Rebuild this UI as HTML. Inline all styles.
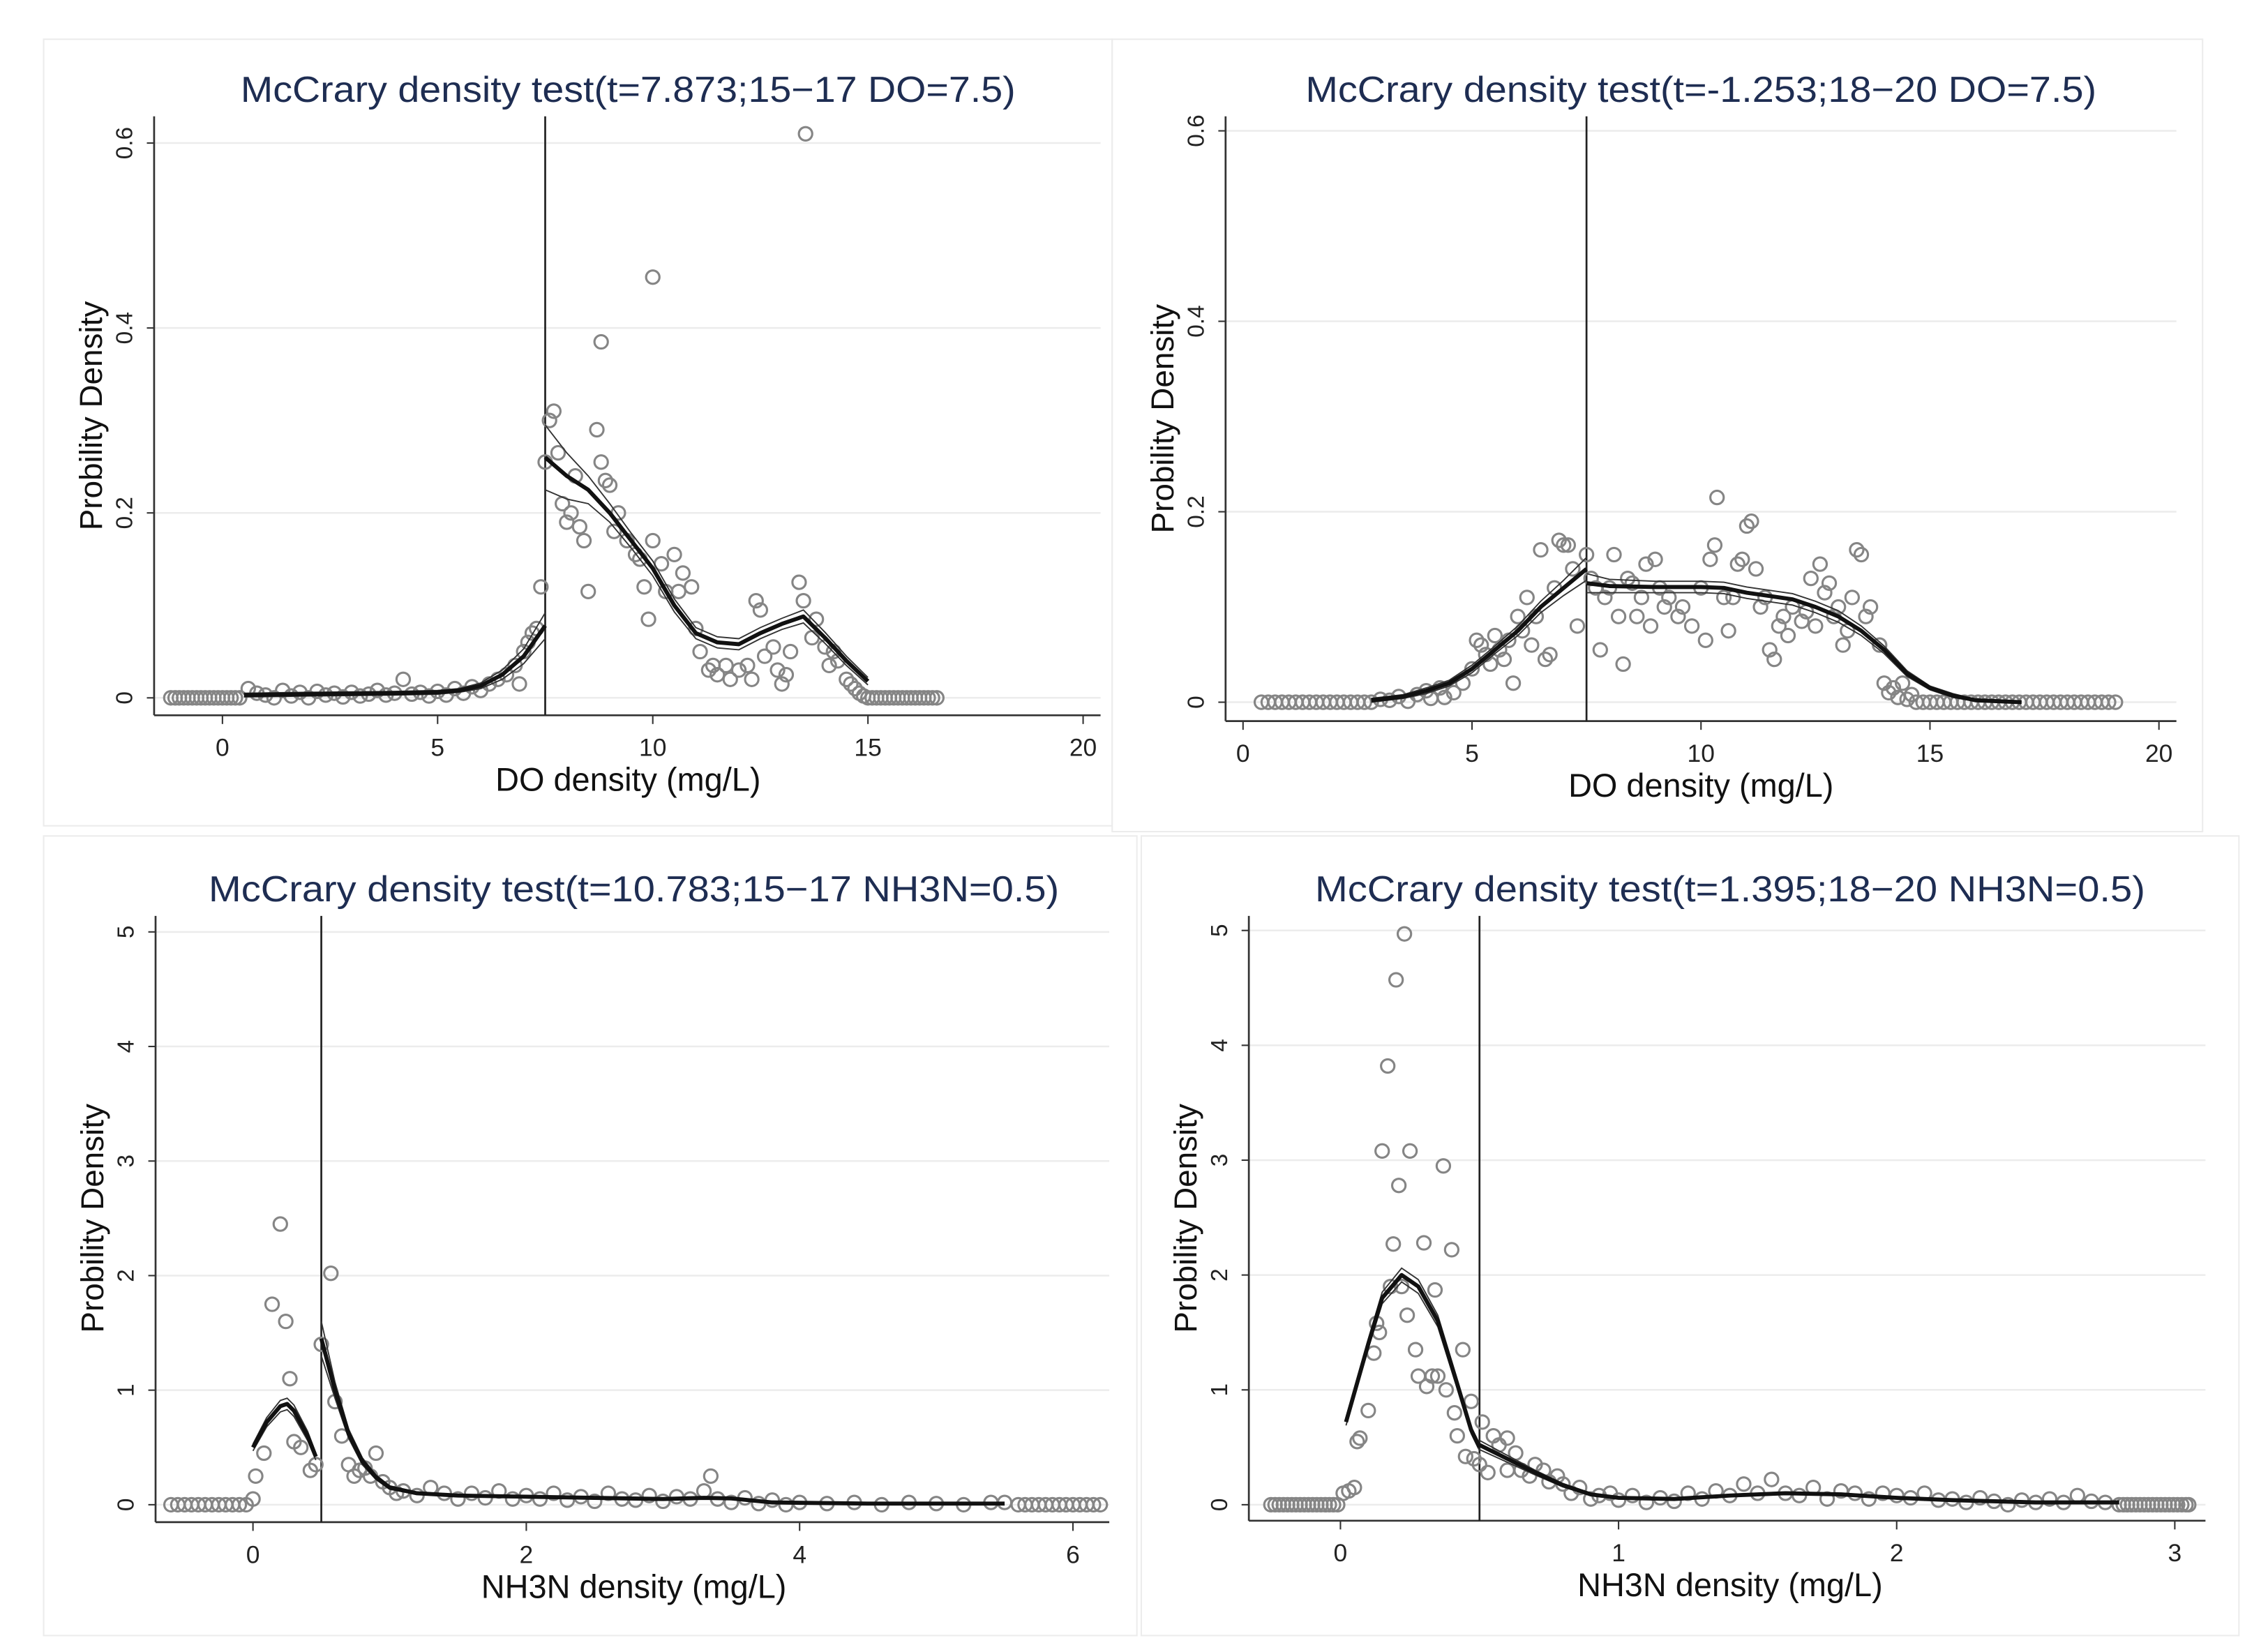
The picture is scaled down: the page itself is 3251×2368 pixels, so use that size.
<!DOCTYPE html>
<html><head><meta charset="utf-8"><style>
html,body{margin:0;padding:0;background:#fff;}
svg{display:block;}
text{font-family:"Liberation Sans",sans-serif;}
</style></head><body>
<svg id="chart" width="3251" height="2368" viewBox="0 0 1560 1136.3" xmlns="http://www.w3.org/2000/svg"></svg>
<script>
// ---------- Panel 1 data ----------
const p1ZeroX=[-1.2,-1.1,-1.0,-0.9,-0.8,-0.7,-0.6,-0.5,-0.4,-0.3,-0.2,-0.1,0,0.1,0.2,0.3,0.4,15.0,15.1,15.2,15.3,15.4,15.5,15.6,15.7,15.8,15.9,16.0,16.1,16.2,16.3,16.4,16.5,16.6];
const p1X=[0.6,0.8,1.0,1.2,1.4,1.6,1.8,2.0,2.2,2.4,2.6,2.8,3.0,3.2,3.4,3.6,3.8,4.0,4.2,4.4,4.6,4.8,5.0,5.2,5.4,5.6,5.8,6.0,6.2,6.4,6.6,6.8,6.9,7.0,7.1,7.2,7.3,7.4,
7.5,7.6,7.7,7.8,7.9,8.0,8.1,8.2,8.3,8.4,8.5,8.7,8.8,8.8,8.9,9.0,9.1,9.2,9.4,9.6,9.7,9.8,9.9,10.0,10.0,10.2,10.3,10.5,10.6,10.7,10.9,11.0,11.1,11.3,11.4,11.5,11.7,11.8,12.0,12.2,12.3,12.4,12.5,12.6,12.8,12.9,13.0,13.1,13.2,13.4,13.5,13.55,13.7,13.8,14.0,14.1,14.2,14.3,14.5,14.6,14.7,14.8,14.9];
const p1Y=[0.01,0.005,0.003,0.0,0.008,0.002,0.006,0.0,0.007,0.003,0.005,0.001,0.006,0.002,0.004,0.008,0.003,0.005,0.02,0.004,0.006,0.002,0.007,0.003,0.01,0.005,0.012,0.008,0.015,0.02,0.025,0.035,0.015,0.05,0.06,0.07,0.075,0.12,
0.255,0.3,0.31,0.265,0.21,0.19,0.2,0.24,0.185,0.17,0.115,0.29,0.385,0.255,0.235,0.23,0.18,0.2,0.17,0.155,0.15,0.12,0.085,0.455,0.17,0.145,0.115,0.155,0.115,0.135,0.12,0.075,0.05,0.03,0.035,0.025,0.035,0.02,0.03,0.035,0.02,0.105,0.095,0.045,0.055,0.03,0.015,0.025,0.05,0.125,0.105,0.61,0.065,0.085,0.055,0.035,0.05,0.04,0.02,0.015,0.01,0.005,0.002];
const p1FitLX=[0.5,2,4,5,5.5,6,6.5,7,7.5];
const p1FitLY=[0.003,0.004,0.005,0.006,0.008,0.013,0.025,0.045,0.078];
const p1FitLCI=[0.002,0.002,0.002,0.002,0.002,0.003,0.005,0.008,0.014];
const p1FitRX=[7.5,8,8.5,9,9.5,10,10.5,11,11.5,12,12.5,13,13.5,14,14.5,15];
const p1FitRY=[0.26,0.24,0.225,0.2,0.17,0.14,0.1,0.07,0.06,0.058,0.07,0.08,0.088,0.065,0.04,0.018];
const p1FitRCI=[0.035,0.025,0.015,0.01,0.008,0.008,0.007,0.006,0.006,0.006,0.006,0.006,0.007,0.006,0.005,0.004];

// ---------- Panel 2 data ----------
const p2ZeroX=[0.4,0.55,0.7,0.85,1.0,1.15,1.3,1.45,1.6,1.75,1.9,2.05,2.2,2.35,2.5,2.65,2.8,14.7,14.85,15.0,15.15,15.3,15.45,15.6,15.75,15.9,16.05,16.2,16.35,16.5,16.65,16.8,16.95,17.1,17.25,17.4,17.55,17.7,17.85,18.0,18.15,18.3,18.45,18.6,18.75,18.9,19.05];
const p2X=[3.0,3.2,3.4,3.6,3.8,4.0,4.1,4.3,4.4,4.6,4.8,5.0,5.1,5.2,5.3,5.4,5.5,5.6,5.7,5.8,5.9,6.0,6.1,6.2,6.3,6.4,6.5,6.6,6.7,6.8,6.9,7.0,7.1,7.2,7.3,
7.5,7.6,7.7,7.8,7.9,8.0,8.1,8.2,8.3,8.4,8.5,8.6,8.7,8.8,8.9,9.0,9.1,9.2,9.3,9.5,9.6,9.8,10.0,10.1,10.2,10.3,10.35,10.5,10.6,10.7,10.8,10.9,11.0,11.1,11.2,11.3,11.4,11.5,11.6,11.7,11.8,11.9,12.0,12.2,12.3,12.4,12.5,12.6,12.7,12.8,12.9,13.0,13.1,13.2,13.3,13.4,13.5,13.6,13.7,13.9,14.0,14.1,14.2,14.3,14.4,14.5,14.6];
const p2Y=[0.003,0.002,0.006,0.001,0.008,0.012,0.004,0.015,0.005,0.01,0.02,0.035,0.065,0.06,0.05,0.04,0.07,0.055,0.045,0.065,0.02,0.09,0.075,0.11,0.06,0.09,0.16,0.045,0.05,0.12,0.17,0.165,0.165,0.14,0.08,
0.155,0.13,0.12,0.055,0.11,0.12,0.155,0.09,0.04,0.13,0.125,0.09,0.11,0.145,0.08,0.15,0.12,0.1,0.11,0.09,0.1,0.08,0.12,0.065,0.15,0.165,0.215,0.11,0.075,0.11,0.145,0.15,0.185,0.19,0.14,0.1,0.11,0.055,0.045,0.08,0.09,0.07,0.1,0.085,0.095,0.13,0.08,0.145,0.115,0.125,0.09,0.1,0.06,0.075,0.11,0.16,0.155,0.09,0.1,0.06,0.02,0.01,0.015,0.005,0.02,0.003,0.008];
const p2FitLX=[2.8,3.5,4,4.5,5,5.5,6,6.5,7,7.5];
const p2FitLY=[0.002,0.006,0.012,0.02,0.035,0.055,0.075,0.1,0.12,0.14];
const p2FitLCI=[0.002,0.002,0.003,0.003,0.004,0.004,0.005,0.006,0.008,0.012];
const p2FitRX=[7.5,8,9,10,10.5,11,12,12.5,13,13.5,14,14.5,15,15.5,16,17];
const p2FitRY=[0.125,0.122,0.121,0.121,0.12,0.115,0.108,0.1,0.09,0.075,0.055,0.03,0.015,0.007,0.002,0.0];
const p2FitRCI=[0.01,0.007,0.006,0.006,0.006,0.006,0.006,0.006,0.006,0.005,0.004,0.003,0.002,0.002,0.001,0.001];

// ---------- Panel 3 data ----------
const p3ZeroX=[-0.6,-0.55,-0.5,-0.45,-0.4,-0.35,-0.3,-0.25,-0.2,-0.15,-0.1,-0.05,5.6,5.65,5.7,5.75,5.8,5.85,5.9,5.95,6.0,6.05,6.1,6.15,6.2];
const p3X=[0.0,0.02,0.08,0.14,0.2,0.24,0.27,0.3,0.35,0.42,0.46,0.5,0.57,0.6,0.65,0.7,0.74,0.78,0.82,0.86,0.9,0.95,1.0,1.05,1.1,1.2,1.3,1.4,1.5,1.6,1.7,1.8,1.9,2.0,2.1,2.2,2.3,2.4,2.5,2.6,2.7,2.8,2.9,3.0,3.1,3.2,3.3,3.35,3.4,3.5,3.6,3.7,3.8,3.9,4.0,4.2,4.4,4.6,4.8,5.0,5.2,5.4,5.5];
const p3Y=[0.05,0.25,0.45,1.75,2.45,1.6,1.1,0.55,0.5,0.3,0.35,1.4,2.02,0.9,0.6,0.35,0.25,0.3,0.32,0.25,0.45,0.2,0.15,0.1,0.12,0.08,0.15,0.1,0.05,0.1,0.06,0.12,0.05,0.08,0.05,0.1,0.04,0.07,0.03,0.1,0.05,0.04,0.08,0.03,0.07,0.05,0.12,0.25,0.05,0.02,0.06,0.01,0.04,0.0,0.02,0.01,0.02,0.0,0.02,0.01,0.0,0.02,0.02];
const p3FitLX=[0,0.1,0.2,0.25,0.3,0.4,0.46];
const p3FitLY=[0.5,0.72,0.86,0.88,0.82,0.6,0.42];
const p3FitLCI=[0.03,0.04,0.05,0.05,0.05,0.04,0.03];
const p3FitRX=[0.5,0.6,0.7,0.8,0.9,1.0,1.2,1.5,2,2.5,3,3.3,3.5,3.8,4.5,5.5];
const p3FitRY=[1.45,1.0,0.62,0.38,0.24,0.15,0.1,0.08,0.07,0.06,0.05,0.06,0.055,0.02,0.01,0.01];
const p3FitRCI=[0.15,0.07,0.04,0.03,0.02,0.015,0.01,0.01,0.01,0.01,0.01,0.01,0.01,0.01,0.01,0.01];

// ---------- Panel 4 data ----------
const p4ZeroX=[-0.25,-0.235,-0.22,-0.205,-0.19,-0.175,-0.16,-0.145,-0.13,-0.115,-0.1,-0.085,-0.07,-0.055,-0.04,-0.025,-0.01,2.8,2.815,2.83,2.845,2.86,2.875,2.89,2.905,2.92,2.935,2.95,2.965,2.98,2.995,3.01,3.025,3.04,3.05];
const p4X=[0.01,0.03,0.05,0.06,0.07,0.1,0.12,0.13,0.15,0.14,0.17,0.18,0.19,0.2,0.21,0.22,0.23,0.24,0.25,0.27,0.28,0.3,0.31,0.33,0.34,0.35,0.37,0.38,0.4,0.41,0.42,0.44,0.45,0.47,0.48,0.5,0.51,0.53,0.55,0.57,0.6,0.6,0.63,0.65,0.68,0.7,0.73,0.75,0.78,0.8,0.83,0.86,0.9,0.93,0.97,1.0,1.05,1.1,1.15,1.2,1.25,1.3,1.35,1.4,1.45,1.5,1.55,1.6,1.65,1.7,1.75,1.8,1.85,1.9,1.95,2.0,2.05,2.1,2.15,2.2,2.25,2.3,2.35,2.4,2.45,2.5,2.55,2.6,2.65,2.7,2.75];
const p4Y=[0.1,0.12,0.15,0.55,0.58,0.82,1.32,1.58,3.08,1.5,3.82,1.9,2.27,4.57,2.78,1.9,4.97,1.65,3.08,1.35,1.12,2.28,1.03,1.12,1.87,1.12,2.95,1.0,2.22,0.8,0.6,1.35,0.42,0.9,0.4,0.35,0.72,0.28,0.6,0.52,0.58,0.3,0.45,0.3,0.25,0.35,0.3,0.2,0.25,0.18,0.1,0.15,0.05,0.08,0.1,0.04,0.08,0.02,0.06,0.03,0.1,0.05,0.12,0.08,0.18,0.1,0.22,0.1,0.08,0.15,0.05,0.12,0.1,0.05,0.1,0.08,0.06,0.1,0.04,0.05,0.02,0.06,0.03,0.0,0.04,0.02,0.05,0.02,0.08,0.03,0.02];
const p4FitLX=[0.02,0.1,0.15,0.22,0.28,0.35,0.42,0.47,0.5];
const p4FitLY=[0.72,1.4,1.8,2.0,1.9,1.6,1.05,0.65,0.5];
const p4FitLCI=[0.03,0.04,0.05,0.06,0.06,0.05,0.04,0.03,0.03];
const p4FitRX=[0.5,0.6,0.7,0.8,0.9,1.0,1.2,1.4,1.6,1.8,2.0,2.2,2.5,2.8];
const p4FitRY=[0.52,0.4,0.28,0.17,0.09,0.06,0.05,0.08,0.1,0.09,0.06,0.04,0.02,0.02];
const p4FitRCI=[0.04,0.03,0.02,0.015,0.01,0.01,0.01,0.01,0.01,0.01,0.01,0.01,0.01,0.01];

const NS='http://www.w3.org/2000/svg';
const svg=document.getElementById('chart');
function mk(tag,attrs,parent){const e=document.createElementNS(NS,tag);for(const k in attrs)e.setAttribute(k,attrs[k]);(parent||svg).appendChild(e);return e;}

function drawPanel(c){
  const g=mk('g',{});
  
  
  const border=mk('rect',{x:c.box[0],y:c.box[1],width:c.box[2]-c.box[0],height:c.box[3]-c.box[1],fill:'#fff',stroke:'#ececec','stroke-width':1},g);
  
  
  const sx=v=>c.x0px+(v-c.x0)*c.xs;
  const sy=v=>c.y0px-v*c.ys;
  c.yTicks.forEach((t,i)=>{
    const y=sy(t);
    const gl=mk('line',{x1:c.axX,x2:c.axXEnd,y1:y,y2:y,stroke:'#ececec','stroke-width':1.2},g);
    
    
    mk('line',{x1:c.axX-5,x2:c.axX,y1:y,y2:y,stroke:'#333','stroke-width':1},g);
    const tl=mk('text',{x:c.axX-15,y:y,'font-size':16,fill:'#222','text-anchor':'middle',transform:`rotate(-90 ${c.axX-15} ${y})`},g);
    tl.textContent=c.yLabels[i];
    
    
  });
  c.xTicks.forEach((t,i)=>{
    const x=sx(t);
    mk('line',{x1:x,x2:x,y1:c.axY,y2:c.axY+6,stroke:'#333','stroke-width':1},g);
    const tl=mk('text',{x:x,y:c.axY+28,'font-size':17,fill:'#222','text-anchor':'middle'},g);
    tl.textContent=c.xLabels[i];
    
    
  });
  const ya=mk('line',{x1:c.axX,x2:c.axX,y1:c.axTop,y2:c.axY,stroke:'#333','stroke-width':1.3},g);
  
  
  const xa=mk('line',{x1:c.axX,x2:c.axXEnd,y1:c.axY,y2:c.axY,stroke:'#333','stroke-width':1.3},g);
  
  
  const cl=mk('line',{x1:sx(c.cut),x2:sx(c.cut),y1:c.axTop,y2:c.axY,stroke:'#222','stroke-width':1.3},g);
  
  
  const pts=mk('g',{fill:'none',stroke:'#858585','stroke-width':1.5},g);
  
  
  c.zeroX.forEach(v=>{const p=mk('circle',{cx:sx(v),cy:sy(0),r:4.6},pts);
    
    });
  c.px.forEach((v,i)=>{const p=mk('circle',{cx:sx(v),cy:sy(c.py[i]),r:4.6},pts);
    
    });
  function fit(xs,ys,ci,nm){
    const path=(off)=>xs.map((v,i)=>`${i?'L':'M'}${sx(v).toFixed(2)},${sy(ys[i]+off*ci[i]).toFixed(2)}`).join('');
    const up=mk('path',{d:path(1),fill:'none',stroke:'#333','stroke-width':0.9},g);
    
    
    const lo=mk('path',{d:path(-1),fill:'none',stroke:'#333','stroke-width':0.9},g);
    
    
    const m=mk('path',{d:path(0),fill:'none',stroke:'#111','stroke-width':2.8,'stroke-linejoin':'round'},g);
    
    
  }
  fit(c.lx,c.ly,c.lci,'left');
  fit(c.rx,c.ry,c.rci,'right');
  const tt=mk('text',{x:c.titleX,y:c.titleY,'font-size':25,fill:'#1e2d52','text-anchor':'middle',textLength:c.titleW,lengthAdjust:'spacingAndGlyphs'},g);
  tt.textContent=c.title;
  
  
  const xt=mk('text',{x:c.xTitleX,y:c.axY+52,'font-size':22.5,fill:'#111','text-anchor':'middle'},g);
  xt.textContent=c.xTitle;
  
  
  const yx=c.axX-36, yy=c.yTitleY;
  const yt=mk('text',{x:yx,y:yy,'font-size':22,fill:'#111','text-anchor':'middle',transform:`rotate(-90 ${yx} ${yy})`},g);
  yt.textContent='Probility Density';
  
  
}

drawPanel({name:'panel-do-15-17',box:[30,27,765,568],axX:106,axXEnd:757,axY:492,axTop:80,x0:0,x0px:153,xs:29.6,y0px:480,ys:636,
  xTicks:[0,5,10,15,20],xLabels:['0','5','10','15','20'],yTicks:[0,0.2,0.4,0.6],yLabels:['0','0.2','0.4','0.6'],cut:7.5,
  zeroX:p1ZeroX,px:p1X,py:p1Y,lx:p1FitLX,ly:p1FitLY,lci:p1FitLCI,rx:p1FitRX,ry:p1FitRY,rci:p1FitRCI,
  title:'McCrary density test(t=7.873;15\u221217 DO=7.5)',titleX:432,titleY:70,titleW:533,xTitle:'DO density (mg/L)',xTitleX:432,yTitleY:286});
drawPanel({name:'panel-do-18-20',box:[765,27,1515,572],axX:843,axXEnd:1497,axY:496,axTop:80,x0:0,x0px:855,xs:31.5,y0px:483,ys:655,
  xTicks:[0,5,10,15,20],xLabels:['0','5','10','15','20'],yTicks:[0,0.2,0.4,0.6],yLabels:['0','0.2','0.4','0.6'],cut:7.5,
  zeroX:p2ZeroX,px:p2X,py:p2Y,lx:p2FitLX,ly:p2FitLY,lci:p2FitLCI,rx:p2FitRX,ry:p2FitRY,rci:p2FitRCI,
  title:'McCrary density test(t=-1.253;18\u221220 DO=7.5)',titleX:1170,titleY:70,titleW:544,xTitle:'DO density (mg/L)',xTitleX:1170,yTitleY:288});
drawPanel({name:'panel-nh3n-15-17',box:[30,575,782,1125],axX:107,axXEnd:763,axY:1047,axTop:630,x0:0,x0px:174,xs:94,y0px:1035,ys:78.8,
  xTicks:[0,2,4,6],xLabels:['0','2','4','6'],yTicks:[0,1,2,3,4,5],yLabels:['0','1','2','3','4','5'],cut:0.5,
  zeroX:p3ZeroX,px:p3X,py:p3Y,lx:p3FitLX,ly:p3FitLY,lci:p3FitLCI,rx:p3FitRX,ry:p3FitRY,rci:p3FitRCI,
  title:'McCrary density test(t=10.783;15\u221217 NH3N=0.5)',titleX:436,titleY:620,titleW:585,xTitle:'NH3N density (mg/L)',xTitleX:436,yTitleY:838});
drawPanel({name:'panel-nh3n-18-20',box:[785,575,1540,1125],axX:859,axXEnd:1517,axY:1046,axTop:630,x0:0,x0px:922,xs:191.3,y0px:1035,ys:79,
  xTicks:[0,1,2,3],xLabels:['0','1','2','3'],yTicks:[0,1,2,3,4,5],yLabels:['0','1','2','3','4','5'],cut:0.5,
  zeroX:p4ZeroX,px:p4X,py:p4Y,lx:p4FitLX,ly:p4FitLY,lci:p4FitLCI,rx:p4FitRX,ry:p4FitRY,rci:p4FitRCI,
  title:'McCrary density test(t=1.395;18\u221220 NH3N=0.5)',titleX:1190,titleY:620,titleW:571,xTitle:'NH3N density (mg/L)',xTitleX:1190,yTitleY:838});
</script>
</body></html>
